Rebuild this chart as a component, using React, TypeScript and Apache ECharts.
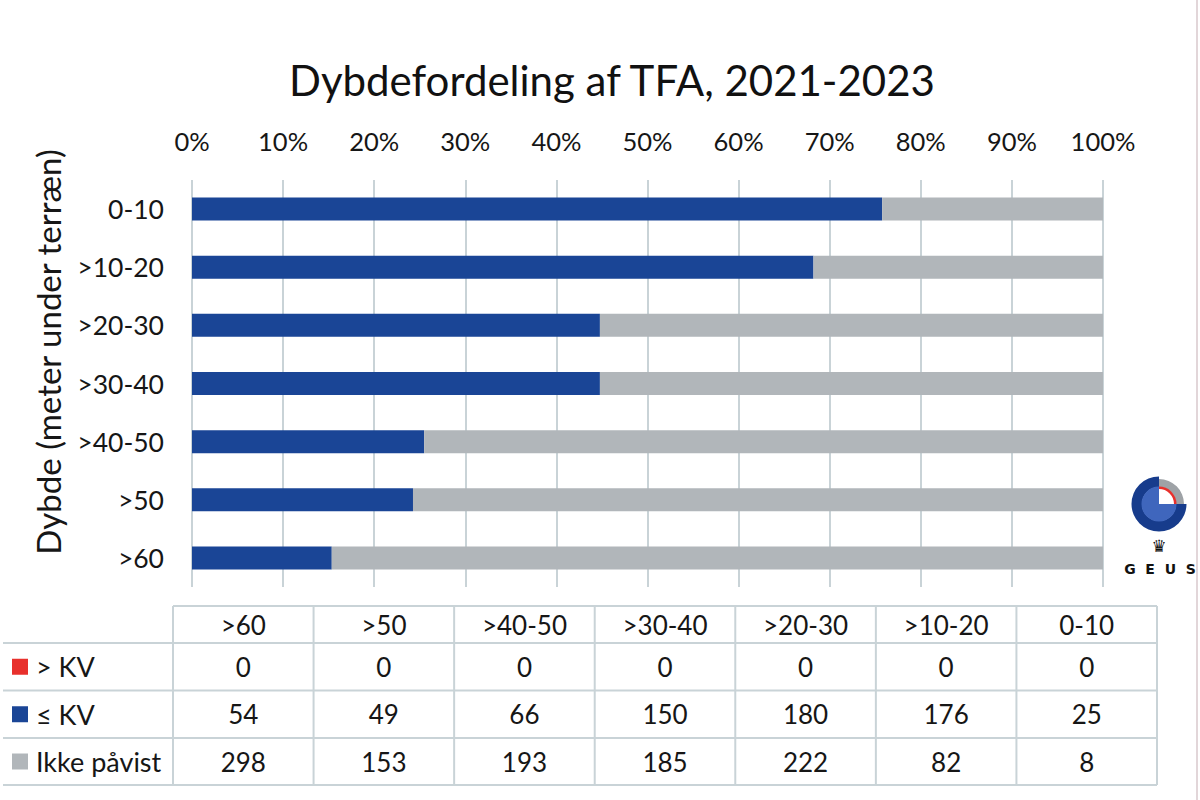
import React, { useEffect, useRef } from "react";
import * as echarts from "echarts";

const titleText = "Dybdefordeling af TFA, 2021-2023";
const yAxisName = "Dybde (meter under terræn)";
const categories = [">60", ">50", ">40-50", ">30-40", ">20-30", ">10-20", "0-10"];
const seriesNames = ["> KV", "≤ KV", "Ikke påvist"];
const overKV = [0, 0, 0, 0, 0, 0, 0];
const underKV = [54, 49, 66, 150, 180, 176, 25];
const notDetected = [298, 153, 193, 185, 222, 82, 8];
const seriesColors = ["#e8302c", "#1a4596", "#b1b6ba"];

const FONT = "Lato";
const TXT = "#161616";
const LINE = "#c9d3d7";

export default function App() {
  const ref = useRef<HTMLDivElement>(null);
  useEffect(() => {
    document.body.style.margin = "0";
    const chart = echarts.init(ref.current!, null, { renderer: "svg" });
    const raw = [overKV, underKV, notDetected];
    const totals = categories.map((_, i) => raw.reduce((s, a) => s + a[i], 0));
    const pct = (arr: number[]) => arr.map((v, i) => (v / totals[i]) * 100);

    // table graphic
    const g: any[] = [];
    const colX0 = 173;
    const colX1 = 1157;
    const colW = (colX1 - colX0) / categories.length;
    const rowY = [606, 643, 690.5, 738, 785];
    const lineStyle = { stroke: LINE, lineWidth: 2 };
    g.push({ type: "line", shape: { x1: colX0, y1: rowY[0], x2: colX1, y2: rowY[0] }, style: lineStyle, silent: true });
    for (let r = 1; r < rowY.length; r++) {
      g.push({ type: "line", shape: { x1: 3, y1: rowY[r], x2: colX1, y2: rowY[r] }, style: lineStyle, silent: true });
    }
    for (let c = 0; c <= categories.length; c++) {
      const x = colX0 + c * colW;
      g.push({ type: "line", shape: { x1: x, y1: rowY[0], x2: x, y2: rowY[rowY.length - 1] }, style: lineStyle, silent: true });
    }
    categories.forEach((cat, c) => {
      const cx = colX0 + (c + 0.5) * colW;
      g.push({
        type: "text", x: cx, y: (rowY[0] + rowY[1]) / 2, silent: true,
        style: { text: cat, align: "center", verticalAlign: "middle", fontSize: 26, fontFamily: FONT, fill: TXT },
      });
      raw.forEach((arr, s) => {
        g.push({
          type: "text", x: cx, y: (rowY[s + 1] + rowY[s + 2]) / 2, silent: true,
          style: { text: String(arr[c]), align: "center", verticalAlign: "middle", fontSize: 26, fontFamily: FONT, fill: TXT },
        });
      });
    });
    seriesNames.forEach((name, s) => {
      const cy = (rowY[s + 1] + rowY[s + 2]) / 2;
      g.push({ type: "rect", shape: { x: 12, y: cy - 8, width: 16, height: 16 }, style: { fill: seriesColors[s] }, silent: true });
      g.push({
        type: "text", x: 36, y: cy, silent: true,
        style: { text: name, align: "left", verticalAlign: "middle", fontSize: 27, fontFamily: FONT, fill: TXT },
      });
    });

    // title
    g.push({
      type: "text", x: 612, y: 80, silent: true,
      style: { text: titleText, align: "center", verticalAlign: "middle", fontSize: 42, fontFamily: FONT, fill: "#111" },
    });
    // y axis name
    g.push({
      type: "text", x: 48, y: 352, rotation: Math.PI / 2, silent: true,
      style: { text: yAxisName, align: "center", verticalAlign: "middle", fontSize: 33, fontFamily: FONT, fill: TXT },
    });

    // logo
    const lx = 1159, ly = 504;
    g.push({ type: "sector", shape: { cx: lx, cy: ly, r0: 17, r: 27.5, startAngle: 0, endAngle: Math.PI * 1.5 }, style: { fill: "#173c8c" }, silent: true });
    g.push({ type: "sector", shape: { cx: lx, cy: ly, r0: 0, r: 17.5, startAngle: 0, endAngle: Math.PI * 1.5 }, style: { fill: "#3f66bd" }, silent: true });
    g.push({ type: "sector", shape: { cx: lx, cy: ly, r0: 17, r: 25, startAngle: -Math.PI / 2, endAngle: 0 }, style: { fill: "#9ea2a6" }, silent: true });
    g.push({ type: "sector", shape: { cx: lx, cy: ly, r0: 15, r: 17.5, startAngle: -Math.PI / 2, endAngle: 0 }, style: { fill: "#e8302c" }, silent: true });
    g.push({
      type: "text", x: lx, y: 546, silent: true,
      style: { text: "♛", align: "center", verticalAlign: "middle", fontSize: 17, fontFamily: "DejaVu Sans", fill: "#111" },
    });
    g.push({
      type: "text", x: lx + 1, y: 569, silent: true,
      style: { text: "G  E  U  S", align: "center", verticalAlign: "middle", fontSize: 14, fontWeight: "bold", fontFamily: "DejaVu Sans", fill: "#111" },
    });
    g.push({ type: "line", shape: { x1: 1197, y1: 0, x2: 1197, y2: 800 }, style: { stroke: "#e2d6d9", lineWidth: 2 }, silent: true });

    const option: any = {
      animation: false,
      backgroundColor: "#ffffff",
      grid: { left: 192, right: 97, top: 180, height: 407, containLabel: false },
      xAxis: {
        type: "value",
        position: "top",
        min: 0,
        max: 100,
        interval: 10,
        axisLine: { show: false },
        axisTick: { show: false },
        axisLabel: { formatter: "{value}%", fontSize: 25.5, fontFamily: FONT, color: TXT, margin: 26 },
        splitLine: { show: true, lineStyle: { color: LINE, width: 2 } },
      },
      yAxis: {
        type: "category",
        data: categories,
        axisLine: { show: false },
        axisTick: { show: false },
        axisLabel: { fontSize: 26.5, fontFamily: FONT, color: TXT, margin: 28 },
      },
      series: seriesNames.map((name, s) => ({
        name,
        type: "bar",
        stack: "total",
        barWidth: 23,
        silent: true,
        itemStyle: { color: seriesColors[s] },
        data: pct(raw[s]),
      })),
      graphic: g,
    };
    chart.setOption(option);
    return () => chart.dispose();
  }, []);
  return <div ref={ref} style={{ width: 1200, height: 800 }} />;
}
